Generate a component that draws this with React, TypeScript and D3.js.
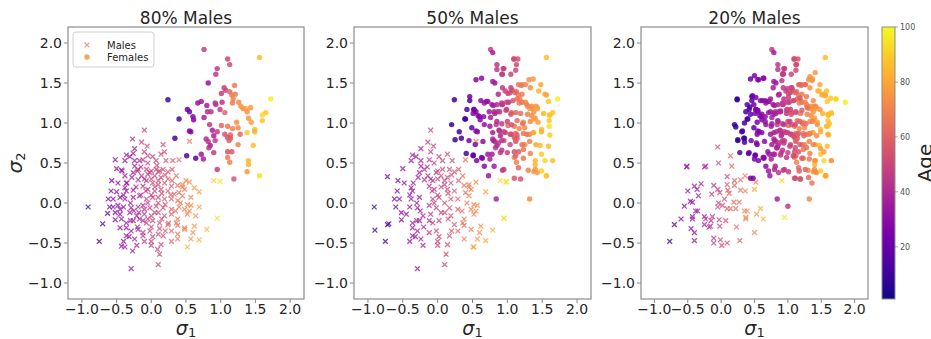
import React from 'react';
import * as d3 from 'd3';

type P = [number, number, number];

// ---------- DATA (sigma1, sigma2, age) ----------
const titles = ['80% Males', '50% Males', '20% Males'];
const axisTicks = [-1, -0.5, 0, 0.5, 1, 1.5, 2];
const colorbarTicks = [20, 40, 60, 80, 100];

const malesPanel1: P[] = [
  [-0.10,0.91,48],[-0.27,0.80,38],[-0.14,0.76,46],[-0.06,0.71,50],[0.17,0.73,52],[-0.24,0.68,36],[-0.10,0.64,45],[-0.26,0.62,37],[-0.36,0.60,33],[-0.31,0.58,35],
  [-0.05,0.59,48],[0.02,0.58,50],[0.14,0.61,52],[0.19,0.64,53],[0.07,0.53,51],[0.21,0.53,55],[0.31,0.53,58],[0.40,0.54,62],[0.55,0.77,66],[-0.52,0.54,30],
  [-0.38,0.53,33],[-0.24,0.53,37],[-0.17,0.53,40],[-0.12,0.54,43],[-0.50,0.43,30],[-0.43,0.41,32],[-0.24,0.46,37],[-0.19,0.42,44],[-0.07,0.42,47],[0.00,0.40,49],
  [0.07,0.42,51],[0.10,0.39,52],[0.17,0.42,53],[0.24,0.39,55],[-0.38,0.34,33],[-0.26,0.38,36],[-0.14,0.34,40],[-0.05,0.36,47],[0.05,0.34,50],[0.14,0.32,52],
  [0.24,0.30,55],[0.36,0.34,62],[-0.57,0.28,28],[-0.36,0.25,33],[-0.19,0.29,39],[-0.07,0.28,46],[0.02,0.25,49],[0.10,0.23,51],[0.19,0.25,53],[0.29,0.21,57],
  [0.38,0.22,64],[0.45,0.23,68],[0.50,0.28,70],[0.55,0.26,72],[0.48,0.17,68],[0.62,0.19,74],[0.69,0.14,76],[-0.58,0.15,27],[-0.50,0.14,29],[-0.38,0.19,32],
  [-0.36,0.15,33],[-0.26,0.16,36],[-0.12,0.21,42],[-0.05,0.17,46],[0.05,0.15,49],[0.14,0.17,52],[0.24,0.15,55],[0.33,0.11,60],[0.40,0.13,64],[0.45,0.09,67],
  [0.57,0.07,71],[-0.62,0.05,22],[-0.55,0.05,27],[-0.45,0.07,30],[-0.38,0.05,32],[-0.26,0.07,35],[-0.17,0.09,42],[-0.07,0.05,46],[0.02,0.07,49],[0.10,0.07,51],
  [0.19,0.05,54],[0.29,0.05,58],[0.38,0.03,65],[0.52,-0.02,70],[0.57,-0.03,72],[0.69,-0.05,76],[-0.91,-0.05,8],[-0.60,-0.05,22],[-0.48,-0.03,29],[-0.40,-0.05,31],
  [-0.29,-0.06,34],[-0.19,-0.05,38],[-0.12,-0.03,43],[-0.02,-0.06,47],[0.07,-0.04,50],[0.17,-0.06,53],[0.29,-0.08,58],[0.40,-0.05,66],[0.48,-0.08,69],[0.55,-0.10,71],
  [-0.63,-0.13,18],[-0.52,-0.12,28],[-0.45,-0.14,30],[-0.31,-0.12,34],[-0.21,-0.16,37],[-0.10,-0.14,44],[0.00,-0.16,48],[0.10,-0.12,51],[0.19,-0.16,54],[0.29,-0.14,58],
  [0.38,-0.20,64],[0.52,-0.14,70],[0.64,-0.16,74],[0.95,-0.19,93],[-0.52,-0.21,28],[-0.43,-0.20,31],[-0.36,-0.25,33],[-0.26,-0.22,35],[-0.17,-0.20,40],[-0.07,-0.25,46],
  [0.02,-0.22,49],[0.12,-0.25,52],[0.24,-0.27,57],[0.36,-0.25,63],[0.48,-0.31,68],[0.62,-0.29,74],[-0.70,-0.26,14],[-0.45,-0.31,30],[-0.36,-0.31,33],[-0.29,-0.35,34],
  [-0.19,-0.33,38],[-0.12,-0.37,44],[-0.02,-0.35,47],[0.10,-0.39,51],[0.17,-0.41,53],[0.29,-0.35,58],[0.38,-0.39,64],[0.48,-0.33,69],[0.60,-0.37,73],[0.80,-0.33,85],
  [-0.36,-0.41,33],[-0.24,-0.45,36],[-0.12,-0.41,43],[0.00,-0.48,48],[0.14,-0.52,52],[0.29,-0.48,60],[0.38,-0.45,66],[0.57,-0.45,73],[0.69,-0.46,82],[-0.75,-0.48,12],
  [-0.40,-0.48,31],[-0.38,-0.55,32],[-0.21,-0.53,37],[0.00,-0.53,48],[0.09,-0.58,50],[0.12,-0.64,51],[0.52,-0.55,80],[-0.27,-0.60,35],[0.10,-0.77,50],[-0.29,-0.82,34],
  [-0.43,-0.54,31],[0.90,0.28,92],[0.99,0.27,94],
  [-0.20,0.40,40],[-0.10,0.30,44],[0.00,0.30,48],[0.12,0.40,52],[0.20,0.35,54],[0.05,0.20,50],[-0.15,0.10,42],[-0.05,0.00,46],[0.10,0.00,51],[0.20,-0.02,54],
  [-0.30,0.00,34],[-0.25,-0.10,36],[-0.10,-0.08,43],[0.05,-0.12,49],[0.15,-0.20,52],[-0.05,-0.20,46],[-0.30,-0.22,35],[-0.20,-0.30,38],[0.00,-0.30,48],[0.20,-0.35,55],
  [-0.40,0.10,31],[-0.45,-0.08,30],[-0.35,0.25,33],[-0.15,0.45,42],[0.08,0.47,51],[0.30,0.28,58],[0.35,-0.10,62],[0.25,-0.25,57],[-0.08,0.15,45],[0.15,0.12,52],
  [-0.22,0.20,38],[0.00,0.10,48],[-0.12,-0.22,42],[0.12,-0.32,51],[-0.28,0.32,35],[-0.48,0.25,29],[-0.55,-0.05,27],[0.42,0.00,66],[0.45,0.20,68],[0.28,0.10,57],
  [-0.02,0.38,47],[0.10,0.28,51],[-0.18,-0.12,40],[0.02,-0.42,49],[-0.32,-0.42,34],[-0.10,-0.48,44],[0.30,0.42,56],[0.38,-0.28,64],[-0.42,0.40,31],[-0.05,0.50,47],
];

const malesPanel2Extra: P[] = [
  [-0.90,-0.34,10],[-0.72,-0.27,14],[-0.72,0.33,24],[0.98,0.26,94],[0.95,-0.19,93],[0.79,-0.34,84],[0.69,-0.47,80],[0.51,-0.55,78],
];

const malesPanel3: P[] = [
  [-0.05,0.70,50],[0.14,0.59,60],[-0.04,0.50,50],[0.16,0.46,60],[-0.51,0.46,32],[-0.23,0.46,38],[0.09,0.33,52],[0.36,0.34,68],[0.20,0.28,58],[0.29,0.29,65],
  [-0.30,0.24,38],[-0.40,0.21,34],[-0.36,0.17,35],[-0.50,0.15,31],[-0.11,0.22,45],[-0.05,0.17,48],[0.09,0.23,58],[0.20,0.22,60],[0.10,0.16,55],[0.36,0.15,70],
  [0.52,0.26,68],[0.50,0.17,80],[-0.14,0.11,46],[-0.02,0.13,50],[-0.34,0.09,36],[0.12,0.12,58],[0.29,0.16,64],[-0.46,0.02,32],[-0.43,0.01,33],[0.05,0.05,53],
  [0.19,0.01,60],[0.27,0.01,63],[-0.55,-0.04,30],[-0.38,-0.10,34],[-0.35,-0.10,35],[-0.04,0.00,48],[-0.05,-0.05,50],[0.09,-0.07,58],[0.14,-0.07,62],[0.22,-0.07,64],
  [0.35,-0.10,68],[0.39,-0.10,70],[0.59,-0.07,80],[0.02,-0.03,52],[-0.70,-0.27,12],[-0.60,-0.20,25],[-0.43,-0.17,32],[-0.43,-0.20,32],[-0.25,-0.17,38],[-0.23,-0.20,40],
  [-0.13,-0.17,45],[-0.15,-0.22,44],[-0.03,-0.21,50],[0.07,-0.22,53],[-0.25,-0.27,37],[-0.18,-0.30,40],[-0.02,-0.29,48],[0.37,-0.18,70],[0.37,-0.20,70],[0.53,-0.14,75],
  [0.63,-0.20,82],[0.95,-0.18,95],[0.91,0.28,92],[0.23,-0.30,60],[-0.45,-0.32,32],[-0.40,-0.37,32],[-0.77,-0.48,8],[-0.40,-0.47,32],[-0.11,-0.44,45],[-0.11,-0.50,45],
  [-0.01,-0.46,50],[0.01,-0.53,50],[0.09,-0.50,52],[0.28,-0.47,60],[0.50,-0.37,72],[-0.16,-0.29,44],[-0.52,0.45,31],[-0.25,0.45,38],
];

const femalesPanel1: P[] = [
  [0.76,1.92,48],[1.10,1.80,50],[1.13,1.73,52],[1.56,1.82,85],[0.95,1.68,46],[0.93,1.61,46],[0.82,1.50,32],[1.05,1.44,48],[1.07,1.41,50],[1.20,1.47,68],
  [1.01,1.37,48],[1.13,1.39,62],[1.16,1.35,66],[1.21,1.36,68],[1.18,1.30,70],[1.26,1.26,72],[1.29,1.21,74],[1.36,1.18,80],[1.43,1.19,76],[1.32,1.18,76],
  [1.38,1.14,74],[1.17,1.25,68],[1.72,1.30,97],[1.65,1.13,88],[1.60,1.10,93],[1.60,1.03,88],[0.24,1.29,10],[0.67,1.25,32],[0.72,1.27,34],[0.80,1.22,36],
  [0.92,1.25,44],[0.93,1.23,44],[1.02,1.26,44],[0.52,1.17,22],[0.55,1.14,24],[0.60,1.08,27],[0.61,1.04,28],[0.81,1.14,42],[0.86,1.14,44],[0.99,1.17,48],
  [1.06,1.13,60],[0.76,1.07,38],[0.40,1.05,12],[1.40,1.06,76],[1.23,1.01,74],[1.44,1.01,78],[0.84,0.98,46],[1.01,0.97,62],[1.10,0.96,66],[1.17,0.93,70],
  [1.25,0.94,72],[0.88,0.91,38],[0.55,0.90,28],[0.57,0.89,28],[0.95,0.89,48],[1.06,0.86,54],[1.38,0.88,88],[1.49,0.92,86],[1.49,0.89,82],[1.14,0.85,60],
  [1.28,0.86,62],[0.90,0.84,38],[1.10,0.82,54],[1.14,0.81,56],[0.34,0.81,10],[0.79,0.80,42],[0.82,0.77,44],[0.92,0.78,46],[1.12,0.78,60],[0.85,0.72,38],
  [0.83,0.69,44],[1.25,0.73,70],[1.47,0.72,86],[1.10,0.64,54],[1.16,0.64,56],[0.90,0.63,46],[0.72,0.61,34],[0.51,0.59,16],[0.64,0.56,18],[0.75,0.55,38],
  [1.10,0.57,68],[1.13,0.51,70],[1.40,0.53,84],[1.40,0.48,84],[0.95,0.42,48],[1.38,0.39,76],[1.56,0.34,94],[1.19,0.30,56],
];

const femalesAddedPanel2: P[] = [
  [0.79,1.88,35],[1.09,1.80,52],[1.15,1.80,54],[0.85,1.73,45],[0.85,1.67,46],[0.94,1.68,48],[0.92,1.61,48],[1.05,1.61,50],[1.12,1.66,52],[0.55,1.54,28],
  [0.63,1.56,30],[0.79,1.52,36],[1.31,1.54,74],[1.37,1.55,76],[1.16,1.48,66],[1.21,1.48,68],[1.26,1.48,70],[1.33,1.44,74],[1.48,1.48,80],[1.45,1.40,84],
  [1.54,1.36,82],[1.56,1.35,80],[1.59,1.27,88],[0.93,1.44,46],[0.87,1.36,40],[0.97,1.40,48],[1.04,1.38,52],[1.11,1.38,60],[0.46,1.33,20],[0.46,1.28,16],
  [0.62,1.28,30],[0.70,1.27,32],[0.78,1.23,34],[0.85,1.23,40],[0.92,1.23,46],[0.99,1.26,48],[1.08,1.28,54],[1.14,1.30,64],[1.21,1.26,66],[1.28,1.23,70],
  [1.35,1.21,72],[1.41,1.21,76],[1.43,1.18,80],[0.42,1.17,14],[0.52,1.17,26],[0.51,1.12,26],[0.58,1.09,28],[0.66,1.08,30],[0.74,1.14,34],[0.82,1.12,38],
  [0.89,1.14,44],[0.98,1.16,50],[1.05,1.11,54],[1.12,1.13,60],[1.19,1.12,64],[1.29,1.11,70],[1.35,1.09,72],[1.52,1.12,84],[1.61,1.10,86],[0.20,0.98,8],
  [0.39,1.05,12],[0.49,0.94,18],[0.67,0.98,32],[0.75,0.96,34],[0.85,1.02,40],[0.92,0.99,46],[1.00,1.02,50],[1.06,0.98,54],[1.14,1.03,62],[1.22,0.99,64],
  [1.33,1.02,72],[1.38,1.05,78],[1.60,0.96,94],[0.31,0.89,10],[0.25,0.79,8],[0.45,0.78,24],[0.65,0.77,30],[0.54,0.73,26],[0.79,0.88,36],[0.89,0.90,44],
  [0.97,0.88,48],[1.04,0.86,52],[1.12,0.87,60],[1.23,0.87,66],[1.32,0.86,70],[1.37,0.88,80],[1.61,0.85,90],[0.80,0.78,38],[0.87,0.75,44],[0.95,0.78,48],
  [1.04,0.73,52],[1.12,0.77,60],[1.21,0.73,64],[1.32,0.77,70],[1.41,0.73,80],[1.59,0.71,86],[0.41,0.62,12],[0.51,0.60,20],[0.78,0.61,36],[0.92,0.66,44],
  [1.00,0.63,48],[1.12,0.59,60],[1.23,0.67,66],[1.33,0.62,70],[1.49,0.61,90],[1.54,0.53,92],[1.65,0.53,86],[0.56,0.53,26],[0.63,0.57,28],[0.67,0.46,30],
  [0.81,0.46,36],[0.93,0.41,46],[1.16,0.44,62],[1.30,0.41,70],[1.40,0.42,74],[1.43,0.38,76],[1.49,0.40,90],[1.56,0.34,88],[0.73,0.34,34],[1.10,0.31,56],
  [1.23,0.56,66],[0.84,0.05,38],[1.32,0.05,72],
];

const femalesAddedPanel3: P[] = [
  [1.12,1.73,52],[0.50,1.59,26],[0.44,1.55,22],[0.56,1.54,28],[0.64,1.56,30],[0.93,1.62,46],[1.41,1.63,76],[1.33,1.58,74],[1.36,1.53,74],[0.78,1.44,36],
  [0.91,1.53,44],[0.99,1.43,48],[1.06,1.44,50],[1.18,1.48,60],[1.26,1.48,62],[1.47,1.40,84],[1.51,1.35,80],[1.58,1.40,86],[1.56,1.34,82],[1.64,1.31,88],
  [1.72,1.30,90],[1.86,1.26,98],[0.24,1.30,8],[0.47,1.34,20],[0.52,1.32,24],[0.39,1.23,16],[0.43,1.20,14],[0.49,1.23,22],[0.59,1.28,28],[0.66,1.28,30],
  [0.74,1.30,34],[0.86,1.35,40],[0.94,1.30,44],[1.01,1.32,48],[1.09,1.28,52],[1.18,1.31,58],[1.28,1.33,66],[1.38,1.28,72],[0.37,1.14,12],[0.44,1.11,18],
  [0.55,1.16,24],[0.61,1.11,28],[0.71,1.13,32],[0.79,1.11,36],[0.89,1.15,40],[0.98,1.12,46],[1.04,1.17,48],[1.12,1.14,52],[1.21,1.16,58],[1.29,1.19,64],
  [1.41,1.21,72],[1.48,1.17,76],[1.60,1.11,86],[1.65,1.12,86],[0.22,0.95,6],[0.35,1.00,10],[0.54,1.01,24],[0.66,1.02,30],[0.76,0.99,34],[0.85,1.03,40],
  [0.94,0.98,44],[1.03,1.02,48],[1.11,0.98,52],[1.18,1.02,58],[1.27,0.99,64],[1.37,1.02,70],[1.44,0.98,74],[1.58,0.96,84],[1.62,0.99,86],[0.32,0.90,10],
  [0.25,0.78,8],[0.35,0.81,10],[0.35,0.76,10],[0.54,0.86,26],[0.61,0.88,28],[0.74,0.86,34],[0.83,0.89,40],[0.91,0.86,44],[1.00,0.88,48],[1.08,0.84,52],
  [1.16,0.87,58],[1.24,0.84,62],[1.33,0.87,68],[1.43,0.84,72],[1.60,0.86,80],[0.53,0.75,26],[0.76,0.73,34],[0.84,0.69,38],[0.94,0.75,44],[1.03,0.71,48],
  [1.11,0.69,52],[1.18,0.73,58],[1.28,0.69,64],[1.38,0.73,70],[1.49,0.68,76],[1.54,0.64,78],[0.28,0.63,14],[0.42,0.63,22],[0.50,0.55,24],[0.64,0.57,30],
  [0.70,0.64,32],[0.80,0.61,38],[0.89,0.60,44],[0.98,0.57,46],[1.08,0.59,50],[1.21,0.56,58],[1.32,0.55,66],[1.41,0.53,72],[1.65,0.53,76],[0.71,0.40,34],
  [0.80,0.42,40],[0.86,0.38,44],[1.01,0.39,48],[1.17,0.40,58],[1.26,0.42,62],[1.41,0.39,72],[1.57,0.34,78],[1.11,0.31,52],[1.18,0.30,54],[1.31,0.32,62],
  [1.36,0.25,66],[0.44,0.31,26],[0.48,0.31,26],[1.00,-0.04,46],
];

// ---------- LAYOUT ----------
const W = 931, H = 339;
const TOP = 27, BOTTOM = 299;
const panelBounds = [
  { left: 68, right: 304 },
  { left: 354, right: 591 },
  { left: 641, right: 868 },
];
const CB = { left: 882, right: 895 };
const FONT = '"DejaVu Sans", sans-serif';
const SPINE = '#8c8c8c';
const TEXT = '#262626';

const color = d3.scaleSequential(d3.interpolatePlasma).domain([1, 100]);
const fmt = (v: number) => d3.format('.1f')(v).replace('-', '\u2212');

const panelData = [
  {
    males: malesPanel1,
    females: femalesPanel1,
  },
  {
    males: malesPanel1.filter((_, i) => i % 3 !== 1).concat(malesPanel2Extra),
    females: femalesPanel1.concat(femalesAddedPanel2),
  },
  {
    males: malesPanel3,
    females: femalesPanel1.concat(femalesAddedPanel2, femalesAddedPanel3),
  },
];

function Panel({ idx }: { idx: number }) {
  const { left, right } = panelBounds[idx];
  const x = d3.scaleLinear().domain([-1.2, 2.2]).range([left, right]);
  const y = d3.scaleLinear().domain([-1.2, 2.2]).range([BOTTOM, TOP]);
  const { males, females } = panelData[idx];
  const cx = (left + right) / 2;
  return (
    <g>
      <rect x={left} y={TOP} width={right - left} height={BOTTOM - TOP} fill="white" />
      {males.map((d, i) => (
        <path
          key={'m' + i}
          d={`M${x(d[0]) - 2.4},${y(d[1]) - 2.4}L${x(d[0]) + 2.4},${y(d[1]) + 2.4}M${x(d[0]) - 2.4},${y(d[1]) + 2.4}L${x(d[0]) + 2.4},${y(d[1]) - 2.4}`}
          stroke={color(d[2])}
          strokeWidth={1.3}
          opacity={0.75}
          fill="none"
        />
      ))}
      {females.map((d, i) => (
        <circle key={'f' + i} cx={x(d[0])} cy={y(d[1])} r={2.7} fill={color(d[2])} opacity={0.85} />
      ))}
      <rect x={left} y={TOP} width={right - left} height={BOTTOM - TOP} fill="none" stroke={SPINE} strokeWidth={1.2} />
      {axisTicks.map((t) => (
        <g key={'xt' + t}>
          <line x1={x(t)} x2={x(t)} y1={BOTTOM} y2={BOTTOM + 4} stroke={SPINE} strokeWidth={1} />
          <text x={x(t)} y={BOTTOM + 15} textAnchor="middle" fontSize={14} fontFamily={FONT} fill={TEXT}>
            {fmt(t)}
          </text>
        </g>
      ))}
      {axisTicks.map((t) => (
        <g key={'yt' + t}>
          <line x1={left - 4} x2={left} y1={y(t)} y2={y(t)} stroke={SPINE} strokeWidth={1} />
          <text x={left - 6} y={y(t) + 5} textAnchor="end" fontSize={14} fontFamily={FONT} fill={TEXT}>
            {fmt(t)}
          </text>
        </g>
      ))}
      <text x={cx} y={24} textAnchor="middle" fontSize={17} fontFamily={FONT} fill={TEXT}>
        {titles[idx]}
      </text>
      <text x={cx} y={335} textAnchor="middle" fontSize={19} fontFamily={FONT} fill={TEXT}>
        <tspan fontStyle="italic">σ</tspan>
        <tspan fontSize={13} dy={2}>1</tspan>
      </text>
      {idx === 0 && (
        <text transform={`translate(22,${(TOP + BOTTOM) / 2}) rotate(-90)`} textAnchor="middle" fontSize={20} fontFamily={FONT} fill={TEXT}>
          <tspan fontStyle="italic">σ</tspan>
          <tspan fontSize={13} dy={3}>2</tspan>
        </text>
      )}
      {idx === 0 && (
        <g>
          <rect x={73} y={32} width={81} height={35} rx={3} fill="white" fillOpacity={0.8} stroke="#d0d0d0" strokeWidth={1} />
          <path d="M84.6,42.6L89.4,47.4M84.6,47.4L89.4,42.6" stroke={color(66)} strokeWidth={1.3} opacity={0.75} />
          <text x={107} y={48.5} fontSize={10} fontFamily={FONT} fill={TEXT}>Males</text>
          <circle cx={87} cy={57} r={2.7} fill={color(76)} opacity={0.85} />
          <text x={107} y={60.5} fontSize={10} fontFamily={FONT} fill={TEXT}>Females</text>
        </g>
      )}
    </g>
  );
}

function Colorbar() {
  const cy = d3.scaleLinear().domain([1, 100]).range([BOTTOM, TOP]);
  const stops = d3.range(0, 1.0001, 0.05);
  return (
    <g>
      <defs>
        <linearGradient id="plasmaGrad" x1="0" y1="1" x2="0" y2="0">
          {stops.map((s) => (
            <stop key={s} offset={s} stopColor={d3.interpolatePlasma(s)} />
          ))}
        </linearGradient>
      </defs>
      <rect x={CB.left} y={TOP} width={CB.right - CB.left} height={BOTTOM - TOP} fill="url(#plasmaGrad)" stroke={SPINE} strokeWidth={1} />
      {colorbarTicks.map((t) => (
        <g key={'cb' + t}>
          <line x1={CB.right} x2={CB.right + 3} y1={cy(t)} y2={cy(t)} stroke={SPINE} strokeWidth={0.8} />
          <text x={CB.right + 5} y={cy(t) + 3} fontSize={8} fontFamily={FONT} fill="#555">
            {t}
          </text>
        </g>
      ))}
      <text transform={`translate(932,${(TOP + BOTTOM) / 2}) rotate(-90)`} textAnchor="middle" fontSize={20} fontFamily={FONT} fill={TEXT}>
        Age
      </text>
    </g>
  );
}

export default function App() {
  return (
    <svg width={W} height={H} style={{ position: 'absolute', left: 0, top: 0, background: 'white' }}>
      <rect width={W} height={H} fill="white" />
      {[0, 1, 2].map((i) => (
        <Panel key={i} idx={i} />
      ))}
      <Colorbar />
    </svg>
  );
}
